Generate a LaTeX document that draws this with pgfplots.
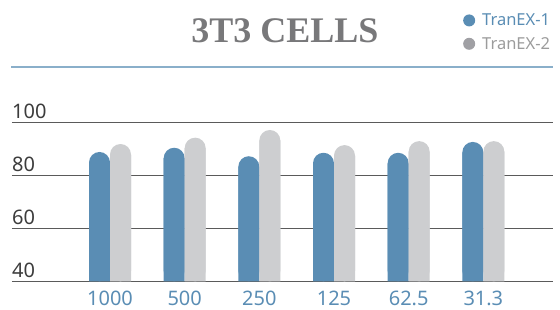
\documentclass[border=0pt]{standalone}
\usepackage{pgfplots}
\usepackage{pgfplotstable}
\pgfplotsset{compat=1.18}
\usepackage{fontspec}
\setmainfont{Noto Sans}
\newfontfamily\titlefont{Liberation Serif}
\definecolor{barblue}{HTML}{5A8DB4}
\definecolor{bargray}{HTML}{CDCED0}
\definecolor{leggray}{HTML}{A0A0A4}
\definecolor{legtext}{HTML}{9C9C9C}
\definecolor{gridcol}{HTML}{5A5A5A}
\definecolor{ytickcol}{HTML}{3C3C3C}
\definecolor{titlecol}{HTML}{78787A}
\definecolor{sepcol}{HTML}{8AAFCA}
\pgfplotstableread{
x v
0 88.8
1 90.4
2 87.2
3 88.5
4 88.5
5 92.6
}\tranone
\pgfplotstableread{
x v
0 91.8
1 94.2
2 97.1
3 91.4
4 92.9
5 92.9
}\trantwo
\begin{document}
\begin{tikzpicture}
\useasboundingbox (0,0) rectangle (560pt,-309pt);
\draw[sepcol, line width=2pt] (11pt,-66.7pt) -- (553pt,-66.7pt);
\begin{axis}[
  at={(12pt,-281.3pt)}, anchor=south west,
  scale only axis, width=541pt, height=159pt,
  xmin=-1.3125, xmax=5.933, ymin=40, ymax=100,
  xtick={0,1,2,3,4,5}, xticklabels={1000,500,250,125,62.5,31.3},
  ytick={40,60,80,100},
  major tick length=0pt,
  axis line style={draw=none},
  ymajorgrids, grid style={gridcol, line width=1pt},
  xticklabel style={font=\fontsize{20}{20}\selectfont, text=barblue, inner sep=0pt, anchor=north, yshift=-9.5pt},
  yticklabel style={font=\fontsize{20}{20}\selectfont, text=ytickcol, inner sep=0pt, anchor=south west, yshift=3pt},
  /pgf/number format/assume math mode=true,
  title={\titlefont\bfseries 3T3 CELLS},
  every axis title/.style={at={(axis description cs:0.5046,1.5006)}, anchor=base, font=\fontsize{36}{36}\selectfont, text=titlecol, inner sep=0pt},
  legend style={at={(axis description cs:0.8336,1.690)}, anchor=north west, draw=none, fill=none, inner sep=0pt, font=\fontsize{16.5}{16.5}\selectfont, row sep=8pt, column sep=6pt, nodes={inner sep=1pt}},
  legend cell align=left,
  every axis plot/.append style={ybar, bar width=21pt, draw=none},
]
% rounded-top bars (full value)
\addplot[fill=barblue, bar shift=-10.5pt, rounded corners=10.5pt,
  legend image code/.code={\fill[barblue] (0pt,0pt) circle (6pt);}]
  table[x=x, y=v] {\tranone};
\addlegendentry{\textcolor{barblue}{TranEX-1}}
\addplot[fill=bargray, bar shift=10.5pt, rounded corners=10.5pt,
  legend image code/.code={\fill[leggray] (0pt,0pt) circle (6pt);}]
  table[x=x, y=v] {\trantwo};
\addlegendentry{\textcolor{legtext}{TranEX-2}}
% square lower parts, so that the bars stand squarely on the base line
\addplot[fill=barblue, bar shift=-10.5pt, forget plot] table[x=x, y expr=\thisrow{v}-3.962] {\tranone};
\addplot[fill=bargray, bar shift=10.5pt, forget plot] table[x=x, y expr=\thisrow{v}-3.962] {\trantwo};
\end{axis}
\end{tikzpicture}
\end{document}
